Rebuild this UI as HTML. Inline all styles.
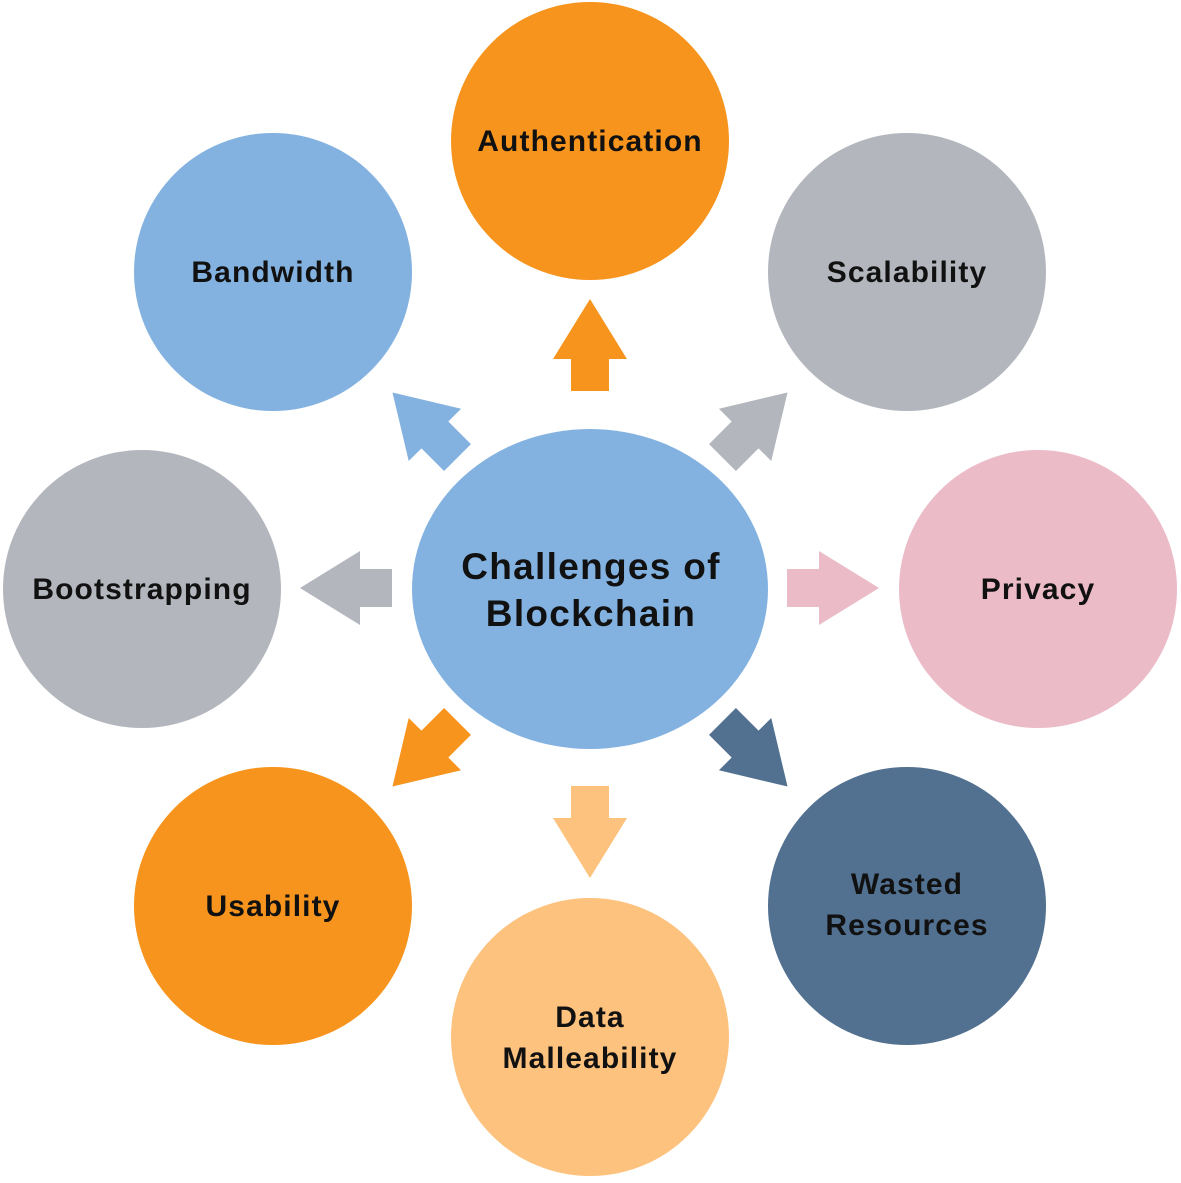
<!DOCTYPE html>
<html><head><style>
html,body{margin:0;padding:0;background:#fff;}
</style></head><body>
<svg width="1181" height="1178" viewBox="0 0 1181 1178" xmlns="http://www.w3.org/2000/svg" font-family="Liberation Sans, Arial, sans-serif" font-weight="bold" text-anchor="middle">
<defs>
<path id="ar" d="M-46,-19 L-14,-19 L-14,-37 L46,0 L-14,37 L-14,19 L-46,19 Z"/>
</defs>
<circle cx="590" cy="141" r="139" fill="#F7941D"/>
<circle cx="907" cy="272" r="139" fill="#B3B6BD"/>
<circle cx="1038" cy="589" r="139" fill="#EBBBC8"/>
<circle cx="907" cy="906" r="139" fill="#52708F"/>
<circle cx="590" cy="1037" r="139" fill="#FDC27E"/>
<circle cx="273" cy="906" r="139" fill="#F7941D"/>
<circle cx="142" cy="589" r="139" fill="#B3B6BD"/>
<circle cx="273" cy="272" r="139" fill="#83B2E0"/>
<ellipse cx="590" cy="589" rx="178" ry="160" fill="#83B2E0"/>

<use href="#ar" fill="#F7941D" transform="translate(590,345) rotate(-90)"/>
<use href="#ar" fill="#B3B6BD" transform="translate(755,425) rotate(-45)"/>
<use href="#ar" fill="#EBBBC8" transform="translate(833,588)"/>
<use href="#ar" fill="#52708F" transform="translate(755,754) rotate(45)"/>
<use href="#ar" fill="#FDC27E" transform="translate(590,832) rotate(90)"/>
<use href="#ar" fill="#F7941D" transform="translate(425,754) rotate(135)"/>
<use href="#ar" fill="#B3B6BD" transform="translate(346,588) rotate(180)"/>
<use href="#ar" fill="#83B2E0" transform="translate(425,425) rotate(-135)"/>

<g font-size="30" fill="#111" letter-spacing="1.1">
<text x="590" y="151">Authentication</text>
<text x="907" y="282">Scalability</text>
<text x="1038" y="599">Privacy</text>
<text x="907" y="894">Wasted</text>
<text x="907" y="935">Resources</text>
<text x="590" y="1027">Data</text>
<text x="590" y="1068">Malleability</text>
<text x="273" y="916">Usability</text>
<text x="142" y="599">Bootstrapping</text>
<text x="273" y="282">Bandwidth</text>
</g>
<g font-size="37" fill="#111" letter-spacing="1.3">
<text x="591" y="579">Challenges of</text>
<text x="591" y="626">Blockchain</text>
</g>
</svg>
</body></html>
